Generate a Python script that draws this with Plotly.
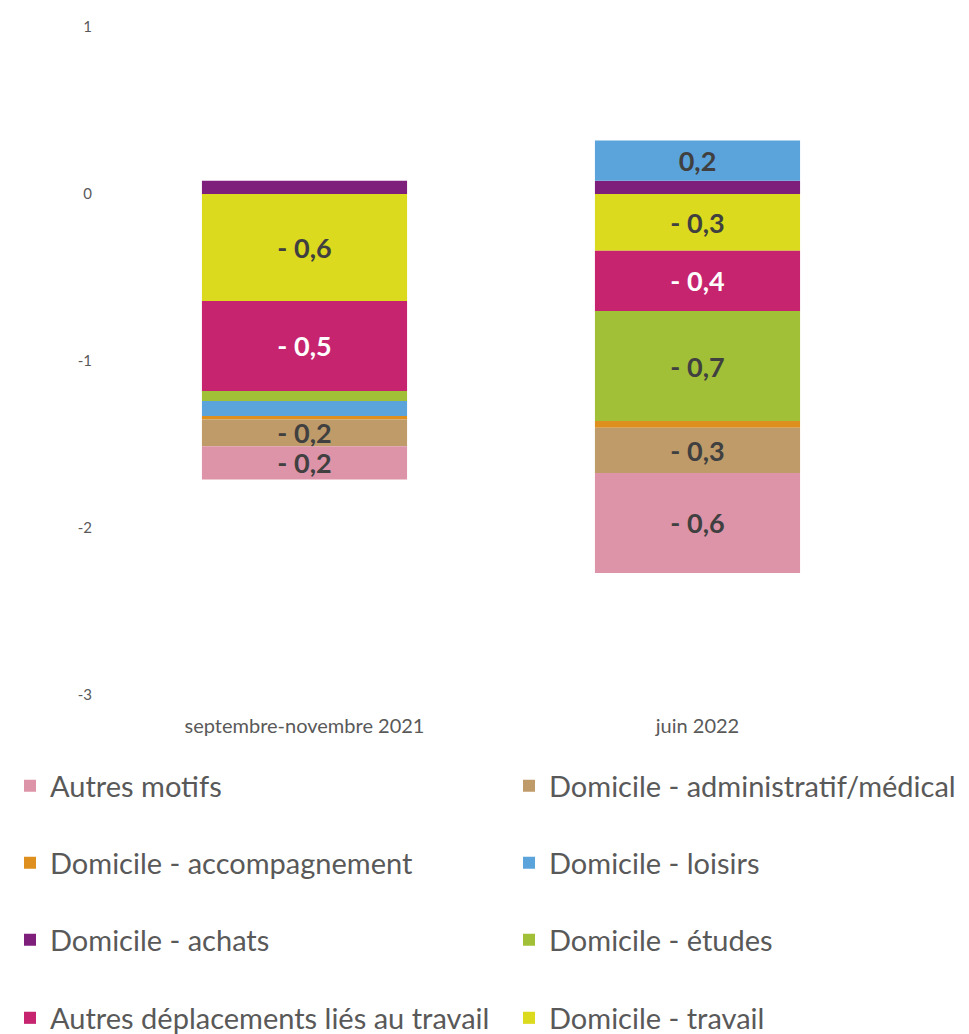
import plotly.graph_objects as go

categories = ["septembre-novembre 2021", "juin 2022"]

# stacking order (first = nearest zero)
series_names = [
    "Domicile - achats",
    "Domicile - travail",
    "Autres déplacements liés au travail",
    "Domicile - études",
    "Domicile - loisirs",
    "Domicile - accompagnement",
    "Domicile - administratif/médical",
    "Autres motifs",
]
achats = [0.08, 0.08]
travail = [-0.64, -0.34]
autres_travail = [-0.54, -0.36]
etudes = [-0.06, -0.66]
loisirs = [-0.09, 0.24]
accompagnement = [-0.02, -0.04]
administratif = [-0.16, -0.27]
autres_motifs = [-0.20, -0.60]

series_values = [achats, travail, autres_travail, etudes, loisirs,
                 accompagnement, administratif, autres_motifs]
colors = ["#7F1F7C", "#DCDA1E", "#C6246E", "#A2C037", "#5BA3DB",
          "#DE8F1E", "#BF9B6A", "#DD94A8"]
text_colors = ["#404040", "#404040", "#FFFFFF", "#404040", "#404040",
               "#404040", "#404040", "#404040"]
# legend grid: (row, column)
legend_cell = {
    "Autres motifs": (0, 0),
    "Domicile - administratif/médical": (0, 1),
    "Domicile - accompagnement": (1, 0),
    "Domicile - loisirs": (1, 1),
    "Domicile - achats": (2, 0),
    "Domicile - études": (2, 1),
    "Autres déplacements liés au travail": (3, 0),
    "Domicile - travail": (3, 1),
}
legend_rows_y = [786, 863, 940, 1018]
legend_cols_x = [10, 509]

ytick_vals = [-3, -2, -1, 0, 1]
ytick_text = ["-3", "-2", "-1", "0", "1"]


def fmt(v):
    if abs(v) < 0.12:
        return ""
    s = f"{abs(v):.1f}".replace(".", ",")
    return ("- " + s) if v < 0 else s


FONT = "Lato"
GREY = "#595959"
W, H = 969, 1034

fig = go.Figure()
legends = {}
for i, (name, vals, col, tcol) in enumerate(zip(series_names, series_values, colors, text_colors)):
    key = "legend" if i == 0 else f"legend{i+1}"
    r, c = legend_cell[name]
    legends[key] = dict(
        orientation="h", xref="container", yref="container",
        x=legend_cols_x[c] / W, xanchor="left",
        y=1 - legend_rows_y[r] / H, yanchor="middle",
        font=dict(family=FONT, size=29, color=GREY),
        bgcolor="rgba(0,0,0,0)", borderwidth=0,
    )
    fig.add_trace(go.Bar(
        x=categories, y=vals, name=name,
        marker=dict(color=col, line=dict(width=0)),
        text=[fmt(v) for v in vals],
        textposition="inside", insidetextanchor="middle",
        textfont=dict(family=FONT, size=27, color=tcol, weight="bold"),
        constraintext="none",
        cliponaxis=False,
        showlegend=True,
        legend=key,
    ))

fig.update_layout(
    width=W, height=H,
    barmode="relative", bargap=0.478,
    plot_bgcolor="white", paper_bgcolor="white",
    margin=dict(l=108, r=75, t=27, b=339),
    uniformtext=dict(minsize=27, mode="show"),
    font=dict(family=FONT, color=GREY),
    showlegend=True,
    **legends,
)
fig.update_yaxes(
    range=[-3, 1], tickvals=ytick_vals, ticktext=ytick_text,
    showgrid=False, zeroline=False, showline=False,
    tickfont=dict(family=FONT, size=15, color=GREY),
    ticks="outside", ticklen=12, tickcolor="rgba(0,0,0,0)",
)
fig.update_xaxes(
    showgrid=False, zeroline=False, showline=False,
    tickfont=dict(family=FONT, size=20, color=GREY),
    ticks="outside", ticklen=13, tickcolor="rgba(0,0,0,0)",
)

fig.write_html("out.html", config={"displayModeBar": False},
               post_script="document.body.style.margin='0px';")
